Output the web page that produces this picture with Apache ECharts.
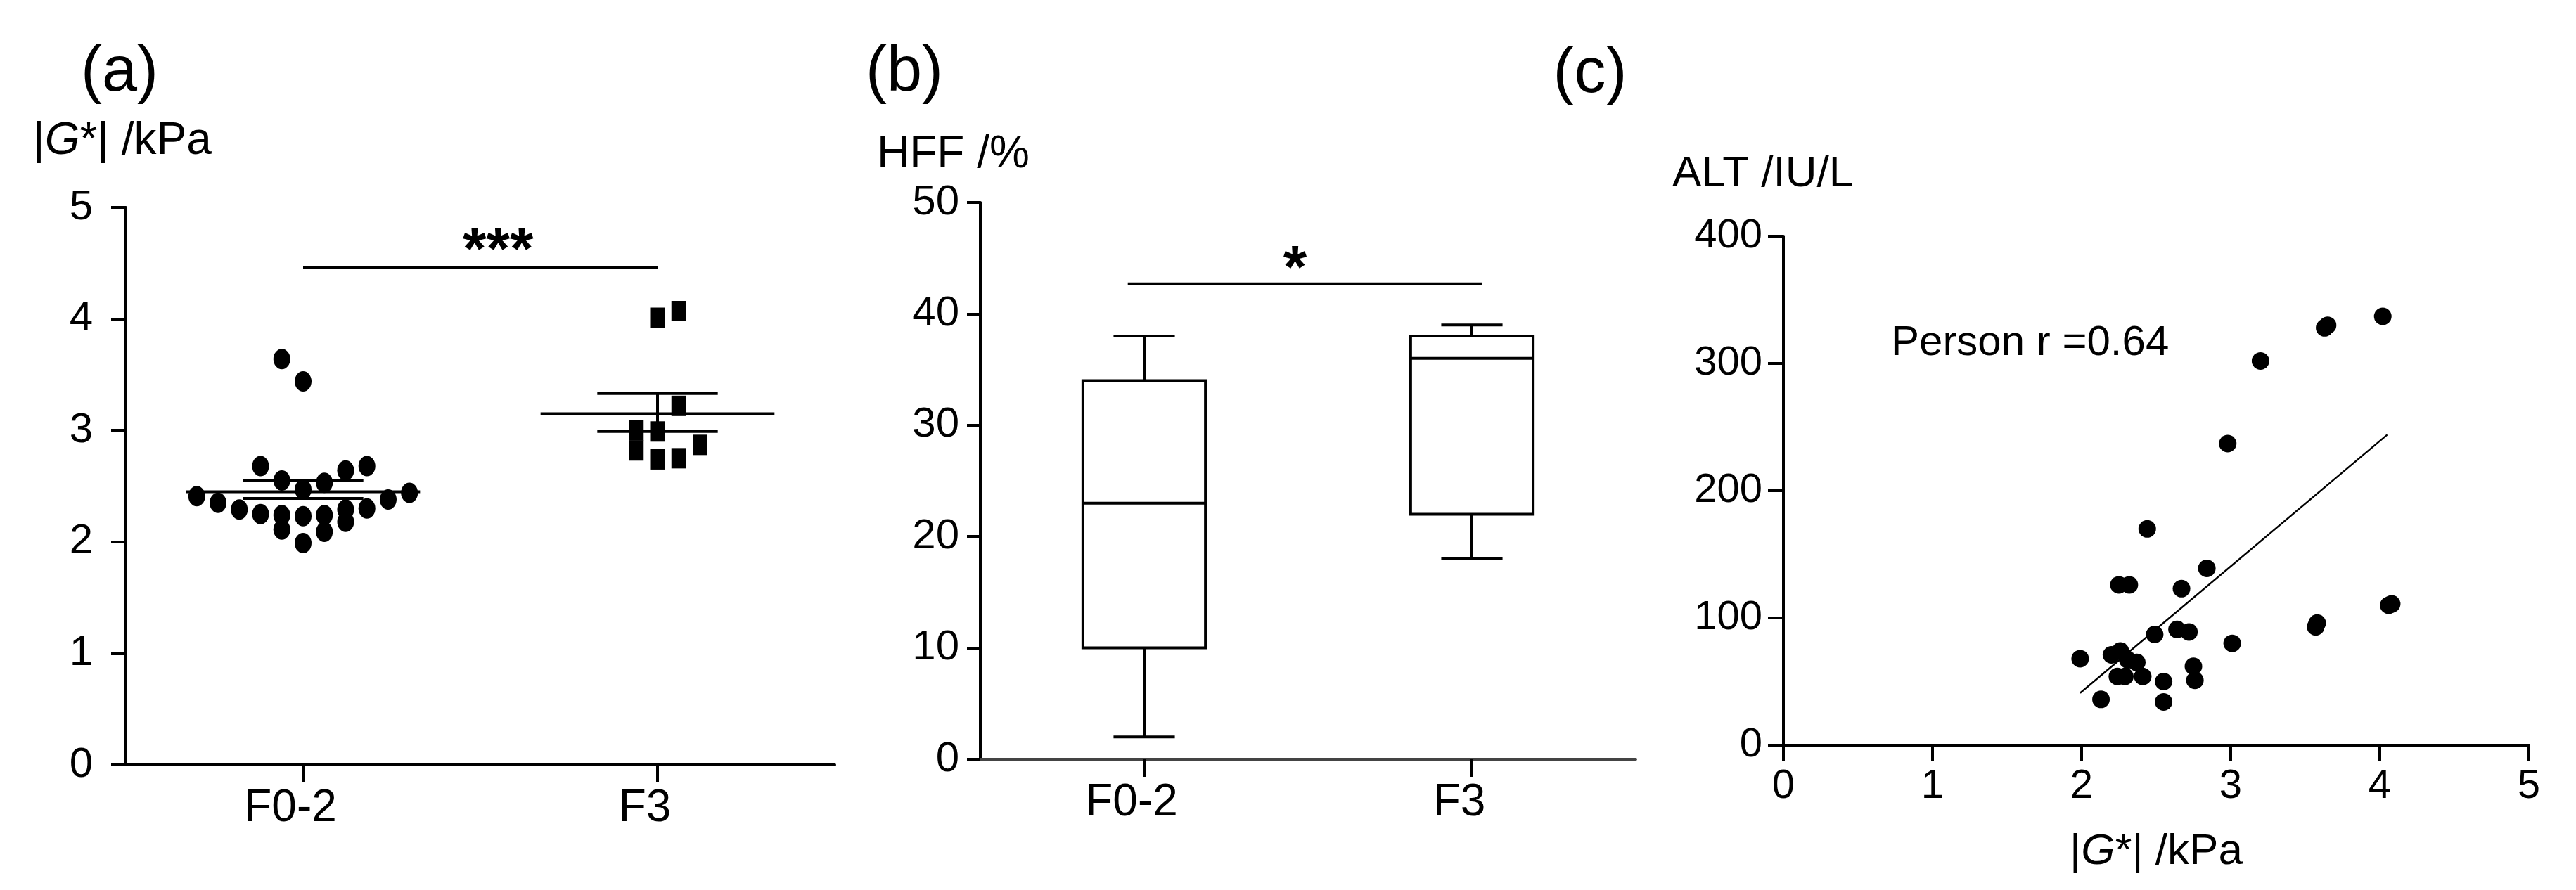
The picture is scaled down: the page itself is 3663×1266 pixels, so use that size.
<!DOCTYPE html>
<html>
<head>
<meta charset="utf-8">
<title>|G*|, HFF and ALT</title>
<script src="https://cdn.jsdelivr.net/npm/echarts@6.0.0/dist/echarts.min.js"></script>
<style>
  html, body { margin: 0; padding: 0; background: #fff; }
  #chart { width: 3663px; height: 1266px; }
</style>
</head>
<body>
<div id="chart"></div>
<script>
// (a) |G*| per fibrosis stage
const stageGroups = ['F0-2', 'F3'];
const stiffF02 = [3.64, 3.44, 2.68, 2.68, 2.64, 2.55, 2.53, 2.47, 2.41, 2.44, 2.35, 2.38,
  2.29, 2.30, 2.29, 2.25, 2.24, 2.23, 2.24, 2.18, 2.11, 2.09, 1.99];
const stiffF02Jitter = [-0.06, 0, -0.12, 0.18, 0.12, -0.06, 0.06, 0, -0.30, 0.30, -0.24, 0.24,
  -0.18, 0.18, 0.12, -0.12, -0.06, 0, 0.06, 0.12, -0.06, 0.06, 0];
const stiffF3 = [4.01, 4.07, 3.22, 2.99, 3.00, 2.82, 2.87, 2.74, 2.75];
const stiffF3Jitter = [0, 0.06, 0.06, 0, -0.06, -0.06, 0.12, 0, 0.06];
const stiffMean = [2.45, 3.15];
const stiffSemHi = [2.55, 3.33];
const stiffSemLo = [2.39, 2.99];
const sigA = { from: 0, to: 1, y: 4.46, starX: 0.55, starY: 4.72, text: '***' };

// (b) HFF box plot: [min, q1, median, q3, max]
const hffBoxes = [
  [2, 10, 23, 34, 38],
  [18, 22, 36, 38, 39]
];
const sigB = { from: -0.05, to: 1.03, y: 42.7, starX: 0.46, starY: 45.1, text: '*' };

// (c) ALT against |G*|
const altG = [2.44, 2.25, 2.32, 2.67, 2.84, 2.49, 2.64, 2.72, 3.01, 1.99, 2.20, 2.26, 2.31, 2.37,
  2.24, 2.29, 2.41, 2.75, 2.76, 2.55, 2.55, 2.13, 2.98, 3.20, 3.57, 3.58, 3.63, 3.65, 4.02, 4.06, 4.08];
const altV = [170, 126, 126, 123, 139, 87, 91, 89, 80, 68, 71, 74, 67, 65,
  54, 54, 54, 62, 51, 50, 34, 36, 237, 302, 93, 96, 328, 330, 337, 110, 111];
const fitG = [1.99, 4.05];
const fitAlt = [41, 244];

const FONT = '"Liberation Sans", Arial, Helvetica, sans-serif';
const INK = '#000';

const chart = echarts.init(document.getElementById('chart'));

// straight segments given as [x1, y1, x2, y2] in data units
function segments(xAxisIndex, yAxisIndex, rows, width, color) {
  return {
    type: 'custom',
    xAxisIndex: xAxisIndex,
    yAxisIndex: yAxisIndex,
    silent: true,
    data: rows,
    encode: { x: [0, 2], y: [1, 3] },
    renderItem: function (params, api) {
      const a = api.coord([api.value(0), api.value(1)]);
      const b = api.coord([api.value(2), api.value(3)]);
      return {
        type: 'line',
        shape: { x1: a[0], y1: a[1], x2: b[0], y2: b[1] },
        style: { stroke: color || INK, lineWidth: width }
      };
    }
  };
}

function starLabel(xAxisIndex, yAxisIndex, sig) {
  return {
    type: 'scatter',
    xAxisIndex: xAxisIndex,
    yAxisIndex: yAxisIndex,
    silent: true,
    symbolSize: 1,
    itemStyle: { color: 'rgba(0,0,0,0)', opacity: 1 },
    data: [[sig.starX, sig.starY]],
    label: {
      show: true,
      position: 'inside',
      offset: [0, 20],
      formatter: sig.text,
      color: INK,
      fontFamily: FONT,
      fontWeight: 'bold',
      fontSize: 86
    }
  };
}

function valueY(grid, min, max, step, labelSize, margin, tickLen) {
  return {
    type: 'value',
    gridIndex: grid,
    min: min,
    max: max,
    interval: step,
    axisLine: { show: true, onZero: false, lineStyle: { color: INK, width: 4 } },
    axisTick: { show: true, length: tickLen, lineStyle: { color: INK, width: 4 } },
    axisLabel: { color: INK, fontFamily: FONT, fontSize: labelSize, margin: margin },
    splitLine: { show: false }
  };
}

function categoryX(grid, lineColor) {
  return {
    type: 'category',
    gridIndex: grid,
    data: stageGroups,
    axisLine: { show: true, onZero: false, lineStyle: { color: lineColor, width: 4 } },
    axisTick: { show: true, alignWithLabel: true, length: 25, lineStyle: { color: INK, width: 4 } },
    axisLabel: { color: INK, fontFamily: FONT, fontSize: 64, margin: 30, padding: [0, 36, 0, 0] },
    splitLine: { show: false }
  };
}

function hiddenX(grid) {
  return { type: 'value', gridIndex: grid, min: -0.5, max: 1.5, show: false };
}

const meanRows = [];
stiffMean.forEach(function (m, i) {
  meanRows.push([i - 0.33, m, i + 0.33, m]);
  meanRows.push([i - 0.17, stiffSemHi[i], i + 0.17, stiffSemHi[i]]);
  meanRows.push([i - 0.17, stiffSemLo[i], i + 0.17, stiffSemLo[i]]);
  meanRows.push([i, stiffSemLo[i], i, stiffSemHi[i]]);
});

const boxRows = hffBoxes.map(function (b, i) { return [i].concat(b); });

function titleText(x, y, text, size, align) {
  return {
    type: 'text',
    x: x,
    y: y,
    style: {
      text: text,
      fill: INK,
      fontFamily: FONT,
      fontSize: size,
      align: align,
      verticalAlign: 'middle'
    }
  };
}

function gText(x, y, size, align) {
  return {
    type: 'text',
    x: x,
    y: y,
    style: {
      text: '|{i|G}*| /kPa',
      fill: INK,
      fontFamily: FONT,
      fontSize: size,
      align: align,
      verticalAlign: 'middle',
      rich: { i: { fontStyle: 'italic', fontFamily: FONT, fontSize: size, fill: INK } }
    }
  };
}

chart.setOption({
  animation: false,
  backgroundColor: '#fff',
  grid: [
    { left: 179, top: 295, width: 1008, height: 793, containLabel: false, outerBoundsMode: 'none' },
    { left: 1394, top: 288, width: 932, height: 792, containLabel: false, outerBoundsMode: 'none' },
    { left: 2536, top: 336, width: 1060, height: 724, containLabel: false, outerBoundsMode: 'none' }
  ],
  xAxis: [
    categoryX(0, INK),
    hiddenX(0),
    categoryX(1, '#444'),
    hiddenX(1),
    {
      type: 'value',
      gridIndex: 2,
      min: 0,
      max: 5,
      interval: 1,
      axisLine: { show: true, onZero: false, lineStyle: { color: INK, width: 4 } },
      axisTick: { show: true, length: 22, lineStyle: { color: INK, width: 4 } },
      axisLabel: { color: INK, fontFamily: FONT, fontSize: 58, margin: 30 },
      splitLine: { show: false }
    }
  ],
  yAxis: [
    valueY(0, 0, 5, 1, 60, 47, 21),
    valueY(1, 0, 50, 10, 60, 30, 19),
    valueY(2, 0, 400, 100, 58, 30, 22)
  ],
  series: [
    // (a)
    {
      type: 'scatter',
      xAxisIndex: 1,
      yAxisIndex: 0,
      symbol: 'circle',
      symbolSize: [24, 29],
      itemStyle: { color: INK, opacity: 1 },
      data: stiffF02.map(function (v, k) { return [0 + stiffF02Jitter[k], v]; })
    },
    {
      type: 'scatter',
      xAxisIndex: 1,
      yAxisIndex: 0,
      symbol: 'rect',
      symbolSize: [21, 29],
      itemStyle: { color: INK, opacity: 1 },
      data: stiffF3.map(function (v, k) { return [1 + stiffF3Jitter[k], v]; })
    },
    segments(1, 0, meanRows, 4),
    segments(1, 0, [[sigA.from, sigA.y, sigA.to, sigA.y]], 4),
    starLabel(1, 0, sigA),

    // (b)
    {
      type: 'custom',
      xAxisIndex: 3,
      yAxisIndex: 1,
      silent: true,
      data: boxRows,
      encode: { x: 0, y: [1, 2, 3, 4, 5] },
      renderItem: function (params, api) {
        const c = api.value(0);
        const half = 0.187;
        const cap = half / 2;
        const lo = api.coord([c, api.value(1)]);
        const q1L = api.coord([c - half, api.value(2)]);
        const q3R = api.coord([c + half, api.value(4)]);
        const medL = api.coord([c - half, api.value(3)]);
        const medR = api.coord([c + half, api.value(3)]);
        const hi = api.coord([c, api.value(5)]);
        const q1 = api.coord([c, api.value(2)]);
        const q3 = api.coord([c, api.value(4)]);
        const capW = api.coord([c + cap, 0])[0] - api.coord([c, 0])[0];
        const st = { stroke: INK, lineWidth: 4, fill: null };
        return {
          type: 'group',
          children: [
            { type: 'rect', shape: { x: q1L[0], y: q3R[1], width: q3R[0] - q1L[0], height: q1L[1] - q3R[1] }, style: { stroke: INK, lineWidth: 4, fill: '#fff' } },
            { type: 'line', shape: { x1: medL[0], y1: medL[1], x2: medR[0], y2: medR[1] }, style: st },
            { type: 'line', shape: { x1: q3[0], y1: q3[1], x2: hi[0], y2: hi[1] }, style: st },
            { type: 'line', shape: { x1: q1[0], y1: q1[1], x2: lo[0], y2: lo[1] }, style: st },
            { type: 'line', shape: { x1: hi[0] - capW, y1: hi[1], x2: hi[0] + capW, y2: hi[1] }, style: st },
            { type: 'line', shape: { x1: lo[0] - capW, y1: lo[1], x2: lo[0] + capW, y2: lo[1] }, style: st }
          ]
        };
      }
    },
    segments(3, 1, [[sigB.from, sigB.y, sigB.to, sigB.y]], 4),
    starLabel(3, 1, sigB),

    // (c)
    {
      type: 'scatter',
      xAxisIndex: 4,
      yAxisIndex: 2,
      symbol: 'circle',
      symbolSize: 25,
      itemStyle: { color: INK, opacity: 1 },
      data: altG.map(function (g, k) { return [g, altV[k]]; })
    },
    segments(4, 2, [[fitG[0], fitAlt[0], fitG[1], fitAlt[1]]], 2.5)
  ],
  graphic: {
    elements: [
      titleText(170, 104, '(a)', 90, 'center'),
      titleText(1286, 104, '(b)', 90, 'center'),
      titleText(2261, 106, '(c)', 90, 'center'),
      gText(47, 201, 64, 'left'),
      titleText(1247, 220, 'HFF /%', 64, 'left'),
      titleText(2378, 248, 'ALT /IU/L', 62, 'left'),
      gText(3066, 1212, 62, 'center'),
      titleText(2689, 488, 'Person r =0.64', 60, 'left')
    ]
  }
});
</script>
</body>
</html>
